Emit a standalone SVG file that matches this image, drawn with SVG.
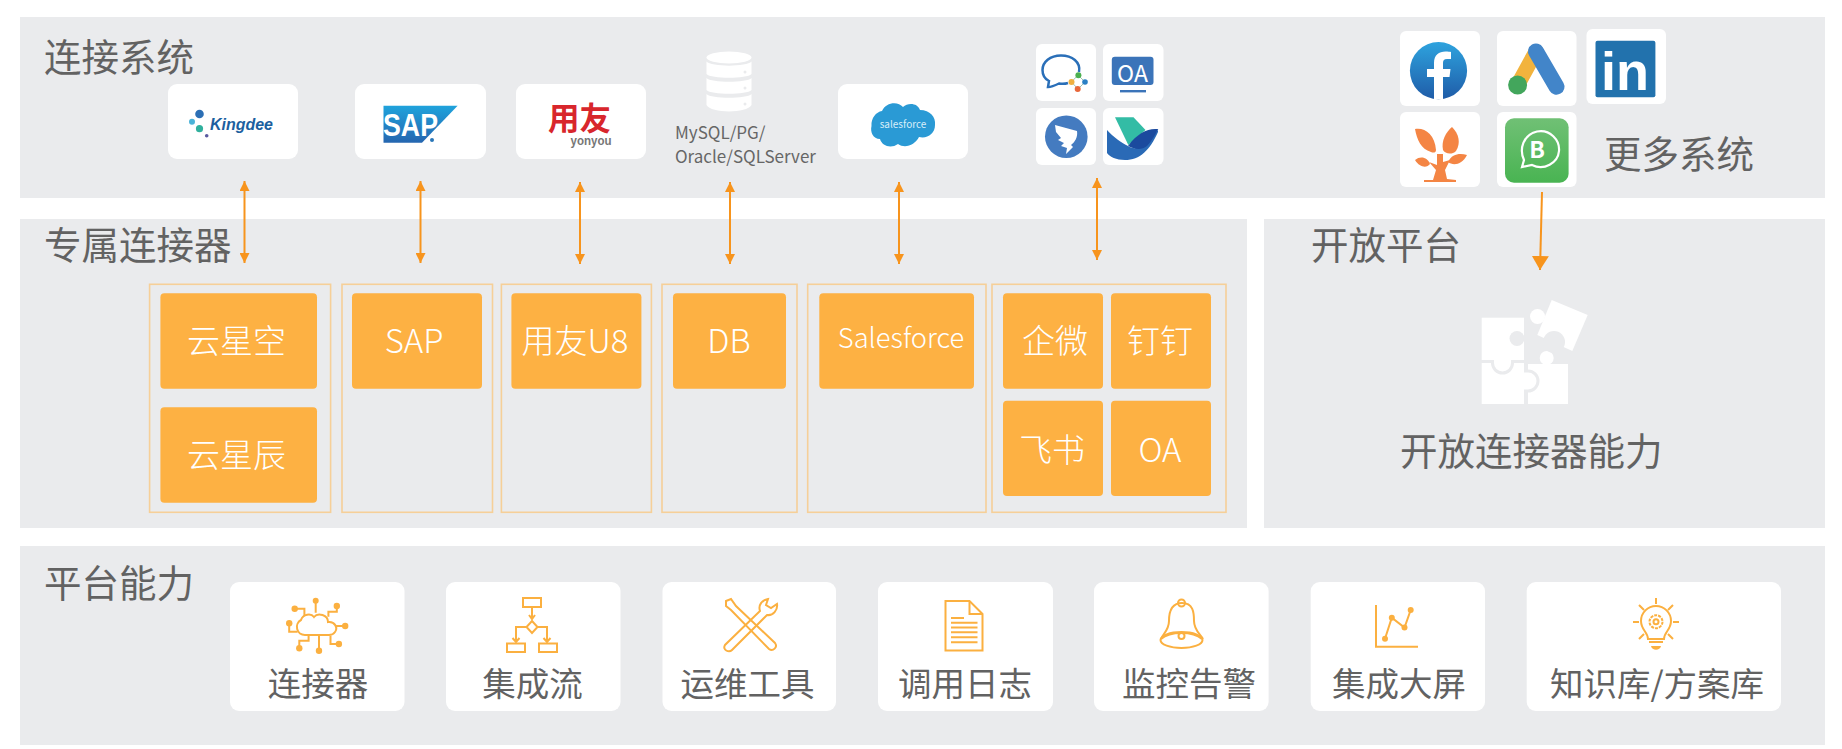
<svg xmlns="http://www.w3.org/2000/svg" width="1842" height="749" viewBox="0 0 1842 749">
<style>
text{font-family:"Noto Sans CJK SC","Noto Sans",sans-serif;}
.panel{fill:#eaebed;}
.title{font-size:37.5px;fill:#626262;}
.card{fill:#fff;}
.group{fill:none;stroke:#f6cf98;stroke-width:1.6;}
.tile{fill:#fdb143;}
.tt{font-size:33px;font-weight:300;fill:#fff;text-anchor:middle;dominant-baseline:central;}
.cap{font-size:33.5px;fill:#626262;text-anchor:middle;dominant-baseline:central;}
.db{font-size:17px;fill:#666;}
.conn{stroke:#f7941d;stroke-width:2;fill:none;marker-start:url(#hs);marker-end:url(#he);}
.ic{fill:none;stroke:#fbb040;stroke-width:2;}
.icf{fill:#fbb040;}
.bgc{fill:#eaebed;}
.w{fill:#fff;}
</style>
<defs>
<marker id="he" markerUnits="userSpaceOnUse" markerWidth="12" markerHeight="10" refX="10" refY="5" orient="auto"><path d="M0 0L10 5L0 10Z" fill="#f7941d"/></marker>
<marker id="hs" markerUnits="userSpaceOnUse" markerWidth="12" markerHeight="10" refX="0" refY="5" orient="auto"><path d="M10 0L0 5L10 10Z" fill="#f7941d"/></marker>
<marker id="big" markerUnits="userSpaceOnUse" markerWidth="18" markerHeight="18" refX="14" refY="8.5" orient="auto"><path d="M0 0L14 8.5L0 17Z" fill="#f7941d"/></marker>
<linearGradient id="gs" x1="0" y1="0" x2="0" y2="1"><stop offset="0" stop-color="#1fa3dc"/><stop offset="1" stop-color="#2566b0"/></linearGradient>
<linearGradient id="gf" x1="0" y1="0" x2="0" y2="1"><stop offset="0" stop-color="#2ea3de"/><stop offset="1" stop-color="#1f5ca8"/></linearGradient>
<linearGradient id="gw" x1="0" y1="0" x2="0" y2="1"><stop offset="0" stop-color="#70c075"/><stop offset="1" stop-color="#49b452"/></linearGradient>
</defs>
<rect width="1842" height="749" fill="#fff"/>
<g id="panels">
<rect class="panel" x="20" y="17" width="1805" height="181"/>
<rect class="panel" x="20" y="219" width="1227" height="309"/>
<rect class="panel" x="1264" y="219" width="561" height="309"/>
<rect class="panel" x="20" y="546" width="1805" height="199"/>
<text class="title" x="44" y="71">连接系统</text>
<text class="title" x="44" y="259">专属连接器</text>
<text class="title" x="1311" y="259">开放平台</text>
<text class="title" x="44" y="597">平台能力</text>
</g>

<g id="sys-kingdee">
<rect class="card" x="168" y="84" width="130" height="75" rx="9"/>
<circle cx="199.500" cy="114" r="4.300" fill="#2c6fb5"/><circle cx="192" cy="121.700" r="3" fill="#4bb3d8"/><circle cx="199.500" cy="128.700" r="3.600" fill="#30b09d"/><circle cx="206.700" cy="135.700" r="1.800" fill="#5a5aa0"/>
<text x="210" y="130" font-size="17" font-weight="700" font-style="italic" fill="#1c5f9f" style="font-family:'Liberation Sans',sans-serif" textLength="63" lengthAdjust="spacingAndGlyphs">Kingdee</text>
</g>
<g id="sys-sap">
<rect class="card" x="355" y="84" width="131" height="75" rx="9"/>
<path d="M383.500 105.700H457.600L422 142.700H383.500Z" fill="url(#gs)"/>
<text x="383" y="136" font-size="31" font-weight="700" fill="#fff" style="font-family:'Liberation Sans',sans-serif" textLength="55" lengthAdjust="spacingAndGlyphs">SAP</text>
<circle cx="432" cy="140" r="2" fill="#2a76b8"/>
</g>
<g id="sys-yonyou">
<rect class="card" x="516" y="84" width="130" height="75" rx="9"/>
<text x="548" y="130" font-size="31.500" font-weight="700" fill="#d8262c">用友</text>
<text x="570.500" y="144.500" font-size="13.500" font-weight="700" fill="#777" style="font-family:'Liberation Sans',sans-serif" textLength="41" lengthAdjust="spacingAndGlyphs">yonyou</text>
</g>
<g id="sys-db">
<ellipse class="w" cx="729" cy="57.500" rx="22.500" ry="6"/>
<path class="w" d="M706.500 61.500C711 67 747 67 751.500 61.500V74C747 79 711 79 706.500 74Z"/>
<path class="w" d="M706.500 78C711 83 747 83 751.500 78V90C747 95 711 95 706.500 90Z"/>
<path class="w" d="M706.500 94C711 99 747 99 751.500 94V105C747 113.500 711 113.500 706.500 105Z"/>
<circle class="bgc" cx="745" cy="72" r="1.500"/><circle class="bgc" cx="745" cy="88" r="1.500"/><circle class="bgc" cx="745" cy="104" r="1.500"/>
<text class="db" x="675" y="138.500">MySQL/PG/</text>
<text class="db" x="675" y="163">Oracle/SQLServer</text>
</g>
<g id="sys-salesforce">
<rect class="card" x="838" y="84" width="130" height="75" rx="9"/>
<path d="M882 111C886 102 898 101 903 107C908 102 918 103 920 110C930 110 936 117 935 125C935 134 927 139 919 137C915 145 905 149 898 144C891 149 882 146 880 139C873 139 870 132 871.500 126C871 118 876 112 882 111Z" fill="#2a9ad5"/>
<text x="903" y="127.500" font-size="10" fill="#d8eef9" text-anchor="middle">salesforce</text>
</g>
<g id="sys-im">
<rect class="card" x="1036" y="44" width="60" height="57" rx="6"/>
<rect class="card" x="1103" y="44" width="60.500" height="57" rx="6"/>
<rect class="card" x="1036" y="108" width="60" height="57" rx="6"/>
<rect class="card" x="1103" y="108" width="60.500" height="57" rx="6"/>
<path d="M1079 72C1081 62 1072 55.500 1061 55.500C1050 55.500 1042.500 62 1042.500 70C1042.500 75 1045 79 1049 81L1048 87C1052 87 1056 85 1059 83.500C1062 84 1065 84 1068 83" fill="none" stroke="#2a6fb8" stroke-width="2.500"/>
<path d="M1078 75L1085 82L1078 89L1071.500 82Z" fill="none" stroke="#9fc3b0" stroke-width="1"/>
<circle cx="1078.400" cy="75.300" r="3" fill="#4bb04f"/><circle cx="1071.500" cy="82" r="3" fill="#f0b040"/><circle cx="1085" cy="82" r="2.800" fill="#2a7fc4"/><circle cx="1077.700" cy="89" r="3" fill="#e8673a"/>
<rect x="1111.800" y="56.700" width="41.700" height="28.300" rx="3" fill="#3b74b9"/>
<rect x="1120" y="90" width="26" height="2.400" fill="#3b74b9"/>
<text x="1132.500" y="81.500" font-size="23" fill="#fff" text-anchor="middle">OA</text>
<circle cx="1066.300" cy="136.700" r="21.300" fill="#447bc0"/>
<path d="M1055 125L1077 131C1078 137 1075 142 1071 145L1073 147L1066 154L1067 148L1061 146L1064 143L1058 140L1061 138L1056 132Z" fill="#fff"/>
<path d="M1115 117.300H1133.500L1145.500 130L1128.300 145Z" fill="#33bca5"/>
<path d="M1107 130C1113 137 1122 143 1128 146C1137 152 1146 145 1158 130V132C1150 150 1140 160 1125 160C1116 160 1110 157 1107 153Z" fill="#2a6ab6"/>
<path d="M1158.300 129.300C1148 128 1138 133 1128 146C1136 150 1142 150 1147 146C1152 141 1155 135 1158.300 129.300Z" fill="#1b4a9e"/>
</g>
<g id="sys-more">
<rect class="card" x="1400" y="31" width="80" height="75" rx="6"/>
<rect class="card" x="1497" y="31" width="79.500" height="75" rx="6"/>
<rect class="card" x="1586.500" y="29" width="79.500" height="75" rx="6"/>
<rect class="card" x="1400" y="112" width="80" height="75" rx="6"/>
<rect class="card" x="1497" y="112" width="79.500" height="75" rx="6"/>
<circle cx="1438.500" cy="70.700" r="28.600" fill="url(#gf)"/>
<path d="M1434 99.300V77H1427V69H1434V63C1434 55 1439 51.500 1445.500 51.500C1448 51.500 1450 51.700 1451 52V59H1447C1444 59 1443 60.500 1443 63V69H1450.500L1449.500 77H1443V99.300Z" fill="#fff"/>
<path d="M1536 51.500L1517.600 85" stroke="#f2b33d" stroke-width="15" stroke-linecap="round" fill="none"/>
<path d="M1536 51.500L1556.500 86.700" stroke="#4285c9" stroke-width="16" stroke-linecap="round" fill="none"/>
<circle cx="1517.600" cy="85" r="9.500" fill="#43a65c"/>
<rect x="1595.500" y="40.700" width="59.900" height="56.600" rx="2" fill="#2272ad"/>
<text x="1625" y="90" font-size="54" font-weight="700" fill="#fff" text-anchor="middle" style="font-family:'Liberation Sans',sans-serif">in</text>
<g fill="#f48544">
<path d="M1415 129C1424 127 1435 134 1436 150C1436 153 1433 153 1431 152C1421 149 1417 140 1415 129Z"/>
<path d="M1452 127C1459 134 1461 143 1456 151C1452 155 1445 154 1443 150C1441 141 1446 132 1452 127Z"/>
<path d="M1415 160C1421 155 1428 158 1430 164C1427 168 1420 168 1415 160Z"/>
<path d="M1467 155C1461 153 1452 153 1448 162C1453 166 1462 165 1467 155Z"/>
<path d="M1437 154L1443 154L1443 162L1450 160L1445 170L1447 179L1456 180V182H1424V180H1433L1436 170L1429 162L1437 165Z"/>
</g>
<rect x="1505" y="118.300" width="63.600" height="64.400" rx="9" fill="url(#gw)"/>
<path d="M1522 167L1524 160C1519 149 1523 135 1537 131.500C1550 129 1560 140 1559 151C1558 163 1544 171 1532 165Z" fill="none" stroke="#fff" stroke-width="2.200"/>
<text x="1537" y="158" font-size="23" font-weight="700" fill="#fff" text-anchor="middle">B</text>
<text x="1604" y="168" style="font-size:37.500px" fill="#626262">更多系统</text>
</g>

<g id="connectors">
<path class="conn" d="M244.500 181V263"/>
<path class="conn" d="M420.500 181V263"/>
<path class="conn" d="M580 182V264"/>
<path class="conn" d="M730 182V264"/>
<path class="conn" d="M899 182V264"/>
<path class="conn" d="M1097 178V260"/>
<path d="M1542 192L1540 270" stroke="#f7941d" stroke-width="2" fill="none" marker-end="url(#big)"/>
</g>

<g id="g-kingdee"><rect class="group" x="149.600" y="284.300" width="181" height="228"/>
<rect class="tile" x="160.400" y="293.300" width="156.600" height="95.400" rx="4"/><text class="tt" x="236.500" y="339">云星空</text>
<rect class="tile" x="160.400" y="407.300" width="156.600" height="95.400" rx="4"/><text class="tt" x="236.500" y="453">云星辰</text></g>
<g id="g-sap"><rect class="group" x="342" y="284.300" width="150.500" height="228"/>
<rect class="tile" x="352" y="293.300" width="130" height="95.400" rx="4"/><text class="tt" x="414" y="339">SAP</text></g>
<g id="g-u8"><rect class="group" x="501.400" y="284.300" width="150" height="228"/>
<rect class="tile" x="511.400" y="293.300" width="130" height="95.400" rx="4"/><text class="tt" x="575" y="339">用友U8</text></g>
<g id="g-db"><rect class="group" x="662" y="284.300" width="135" height="228"/>
<rect class="tile" x="673" y="293.300" width="113" height="95.400" rx="4"/><text class="tt" x="729" y="339">DB</text></g>
<g id="g-sf"><rect class="group" x="807.700" y="284.300" width="178.300" height="228"/>
<rect class="tile" x="819.300" y="293.300" width="154.700" height="95.400" rx="4"/><text class="tt" x="901" y="336" style="font-size:27.300px">Salesforce</text></g>
<g id="g-im"><rect class="group" x="992" y="284.300" width="234" height="228"/>
<rect class="tile" x="1003" y="293.300" width="100" height="95.400" rx="4"/><text class="tt" x="1055" y="339">企微</text>
<rect class="tile" x="1111" y="293.300" width="100" height="95.400" rx="4"/><text class="tt" x="1160" y="339">钉钉</text>
<rect class="tile" x="1003" y="400.700" width="100" height="95.400" rx="4"/><text class="tt" x="1052" y="448">飞书</text>
<rect class="tile" x="1111" y="400.700" width="100" height="95.400" rx="4"/><text class="tt" x="1160" y="448">OA</text></g>

<g id="open-platform">
<rect class="w" x="1481.700" y="317.700" width="42.300" height="42.300"/>
<circle class="bgc" cx="1517" cy="338.500" r="7.500"/>
<rect class="w" x="1481.700" y="363" width="42.300" height="41"/>
<path d="M1492.500 360V363A10 10 0 0 0 1512.500 363V360" fill="#fff" stroke="#eaebed" stroke-width="3"/>
<rect class="w" x="1528" y="364" width="40" height="40"/>
<circle class="w" cx="1546.700" cy="358" r="7"/>
<path d="M1524 371H1528A10 10 0 0 1 1528 391H1524" fill="#fff" stroke="#eaebed" stroke-width="3"/>
<path class="w" d="M1551.700 300L1587.700 315L1572.300 351L1537.300 335Z"/>
<circle class="bgc" cx="1554" cy="342" r="11"/>
<circle class="w" cx="1537.500" cy="316.500" r="7.500"/>
<text x="1400" y="465" style="font-size:37.500px" fill="#626262">开放连接器能力</text>
</g>

<g id="cap-connector"><rect class="card" x="230" y="582" width="174.500" height="129" rx="9"/>
<path class="ic" d="M305 635A8 8 0 0 1 301 620C303 614 311 613 314 617C318 612 328 615 328 622C335 621 338 628 335 632C333 635 331 635 329 635Z"/>
<path class="ic" d="M315.700 600.700V612.700M294.700 608.700H304.400V616M336.800 606V611.700H328.400V616.700M289.200 623.300V631.700H297.600M345.200 626H335.500M338.900 644H330.500V636M319 650.700V636M299.300 648.300V640.700H308.600V636"/>
<circle class="icf" cx="315.700" cy="600.700" r="3"/><circle class="icf" cx="294.700" cy="608.700" r="3.200"/><circle class="icf" cx="336.800" cy="606" r="3.200"/><circle class="icf" cx="289.200" cy="623.300" r="3.200"/><circle class="icf" cx="345.200" cy="626" r="3.200"/><circle class="icf" cx="338.900" cy="644" r="3.200"/><circle class="icf" cx="319" cy="650.700" r="3.200"/><circle class="icf" cx="299.300" cy="648.300" r="3.200"/>
<text class="cap" x="318" y="681.500">连接器</text></g>
<g id="cap-flow"><rect class="card" x="446" y="582" width="174.500" height="129" rx="9"/>
<rect class="ic" x="523" y="598" width="18" height="9"/>
<path class="ic" d="M532 607V618M529 615L532 619L535 615"/>
<path class="ic" d="M532 621L537.500 627L532 633L526.500 627Z"/>
<path class="ic" d="M526.500 627H516V642M537.500 627H547V642M512.500 638L516 642L519.500 638M543.500 638L547 642L550.500 638"/>
<rect class="ic" x="507" y="643.500" width="18" height="8.500"/><rect class="ic" x="539" y="643.500" width="18" height="8.500"/>
<text class="cap" x="532.500" y="681.500">集成流</text></g>
<g id="cap-tools"><rect class="card" x="662.500" y="582" width="173.500" height="129" rx="9"/>
<path class="ic" d="M726 601L731 599L736 606L775 643C778 647 773 652 769 649L731 610L726 606Z"/>
<path class="ic" d="M768 599C762 600 758 605 760 611L725 645C722 650 729 653 732 650L767 615C773 616 778 610 777 604L771 608L766 605Z"/>
<text class="cap" x="747.500" y="681.500">运维工具</text></g>
<g id="cap-log"><rect class="card" x="878" y="582" width="175" height="129" rx="9"/>
<path class="ic" d="M945.500 601H969.500L982.500 614V650.500H945.500Z"/><path class="ic" d="M969.500 601V614H982.500"/>
<path class="ic" d="M951 618H964M951 622.700H977.500M951 627.500H977.500M951 632.300H977.500M951 637.300H977.500M951 642.300H977.500"/>
<text class="cap" x="965" y="681.500">调用日志</text></g>
<g id="cap-alarm"><rect class="card" x="1094" y="582" width="174.600" height="129" rx="9"/>
<path class="ic" d="M1182 603C1171 603 1169 612 1169 621C1169 630 1163 634 1161 639M1182 603C1193 603 1194 612 1194 621C1194 630 1200 634 1203 639" stroke-width="1.600"/>
<circle class="ic" cx="1181.500" cy="603" r="3.500" stroke-width="1.600"/>
<ellipse class="ic" cx="1181.500" cy="640" rx="21" ry="8" stroke-width="1.600"/>
<path class="ic" d="M1161 639C1170 631 1193 631 1202 639" stroke-width="1.600"/>
<circle class="ic" cx="1181.500" cy="636" r="3" stroke-width="1.600"/>
<text class="cap" x="1189" y="681.500">监控告警</text></g>
<g id="cap-screen"><rect class="card" x="1310.700" y="582" width="174.300" height="129" rx="9"/>
<path class="ic" d="M1376 605V646.700H1418"/>
<path class="ic" d="M1385 638.700L1391.800 617.700L1404.500 627.500L1410.700 610"/>
<circle class="icf" cx="1385" cy="638.700" r="3"/><circle class="icf" cx="1391.800" cy="617.700" r="3"/><circle class="icf" cx="1404.500" cy="627.500" r="3"/><circle class="icf" cx="1410.700" cy="610" r="3"/>
<text class="cap" x="1399" y="681.500">集成大屏</text></g>
<g id="cap-kb"><rect class="card" x="1526.700" y="582" width="254.300" height="129" rx="9"/>
<path class="ic" d="M1648 639C1648 632 1641 630 1641 621A15 15 0 0 1 1671 621C1671 630 1664 632 1664 639Z" stroke-width="1.500"/>
<circle class="ic" cx="1656" cy="621.700" r="6.500" stroke-width="1.500" stroke-dasharray="3 1"/><circle class="ic" cx="1656" cy="621.700" r="2.500" stroke-width="1.200"/>
<path class="ic" d="M1656 598V604M1639 605L1644 610M1673 605L1668 610M1633 622H1639M1673 622H1679M1639 639L1644 634M1673 639L1668 634M1649 642H1663" stroke-width="1.500"/>
<path class="icf" d="M1651 646H1661C1660 651 1652 651 1651 646Z"/>
<text class="cap" x="1657" y="681.500">知识库/方案库</text></g>
</svg>
